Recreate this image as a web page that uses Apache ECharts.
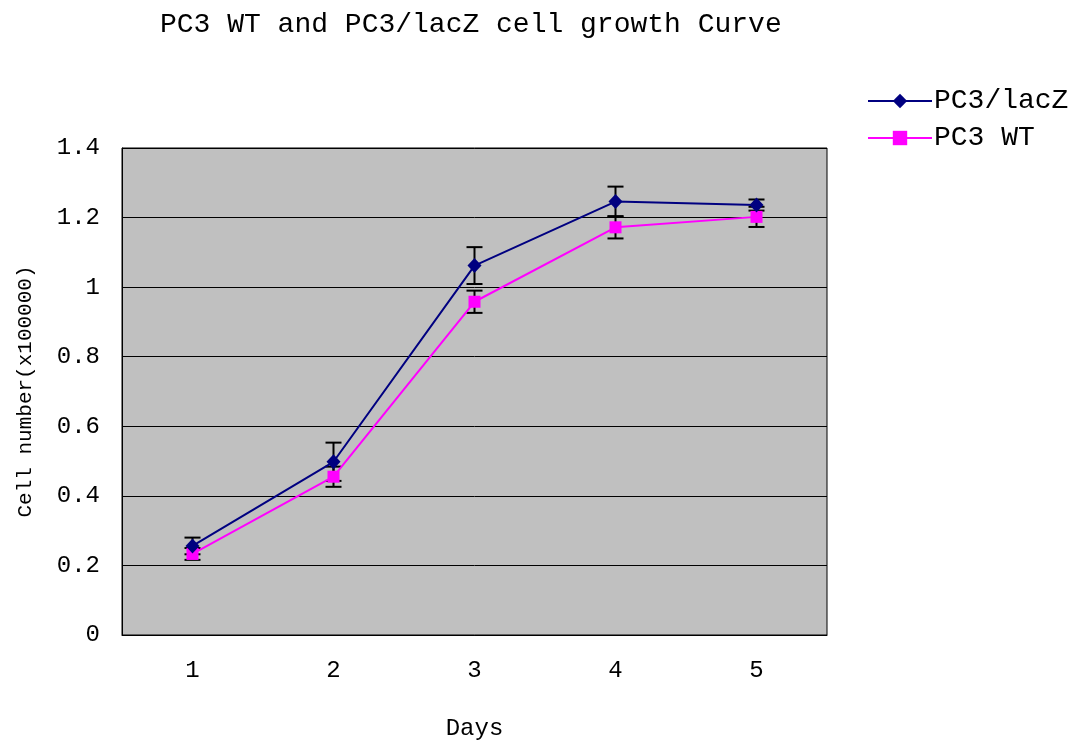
<!DOCTYPE html>
<html>
<head>
<meta charset="utf-8">
<style>
  html, body { margin: 0; padding: 0; background: #fff; }
  #chart { width: 1082px; height: 741px; }
</style>
<script src="https://cdn.jsdelivr.net/npm/echarts@6/dist/echarts.min.js"></script>
</head>
<body>
<div id="chart"></div>
<script>
// values (cell number x100000)
var days = ['1', '2', '3', '4', '5'];
var laczMean = [0.256, 0.498, 1.062, 1.246, 1.236];
var laczErr = [0.024, 0.055, 0.053, 0.043, 0.016];
var wtMean = [0.233, 0.455, 0.958, 1.172, 1.202];
var wtErr = [0.017, 0.029, 0.032, 0.032, 0.029];

var FONT = '"Liberation Mono", "DejaVu Sans Mono", monospace';

function errData(mean, err) {
  return mean.map(function (m, i) { return [i, m - err[i], m + err[i]]; });
}

function renderErr(params, api) {
  var lo = api.coord([api.value(0), api.value(1)]);
  var hi = api.coord([api.value(0), api.value(2)]);
  var w = 8;
  var style = { stroke: '#000', lineWidth: 2 };
  return {
    type: 'group',
    children: [
      { type: 'line', shape: { x1: lo[0], y1: lo[1], x2: hi[0], y2: hi[1] }, style: style },
      { type: 'line', shape: { x1: lo[0] - w, y1: lo[1], x2: lo[0] + w, y2: lo[1] }, style: style },
      { type: 'line', shape: { x1: hi[0] - w, y1: hi[1], x2: hi[0] + w, y2: hi[1] }, style: style }
    ]
  };
}

var chart = echarts.init(document.getElementById('chart'));
chart.setOption({
  animation: false,
  backgroundColor: '#fff',
  textStyle: { fontFamily: FONT, color: '#000' },
  title: {
    text: 'PC3 WT and PC3/lacZ cell growth Curve',
    left: 155,
    top: 6,
    textStyle: { fontFamily: FONT, fontSize: 28, fontWeight: 'normal', color: '#000' }
  },
  legend: {
    orient: 'vertical',
    left: 862,
    top: 82,
    itemWidth: 64,
    itemHeight: 18,
    itemGap: 9,
    textStyle: { fontFamily: FONT, fontSize: 28, color: '#000', padding: [0, 0, 0, -3] },
    data: ['PC3/lacZ', 'PC3 WT']
  },
  grid: {
    left: 122, top: 148, width: 705, height: 487,
    containLabel: false,
    outerBoundsMode: 'none',
    show: true, backgroundColor: '#c0c0c0', borderColor: '#000', borderWidth: 1
  },
  xAxis: {
    type: 'category',
    data: days,
    boundaryGap: true,
    name: 'Days',
    nameLocation: 'middle',
    nameGap: 82,
    nameTextStyle: { fontFamily: FONT, fontSize: 24, color: '#000' },
    axisLine: { lineStyle: { color: '#000', width: 1 } },
    axisTick: { inside: true, length: 8, lineStyle: { color: '#000' } },
    axisLabel: { fontFamily: FONT, fontSize: 24, color: '#000', margin: 24 },
    splitLine: { show: false }
  },
  yAxis: {
    type: 'value',
    min: 0, max: 1.4, interval: 0.2,
    name: 'Cell number(x100000)',
    nameLocation: 'middle',
    nameGap: 86,
    nameTextStyle: { fontFamily: FONT, fontSize: 21, color: '#000' },
    axisLine: { show: true, lineStyle: { color: '#000', width: 1 } },
    axisTick: { show: false },
    axisLabel: { fontFamily: FONT, fontSize: 24, color: '#000', margin: 22 },
    splitLine: { show: true, lineStyle: { color: '#000', width: 1 } }
  },
  series: [
    {
      type: 'custom', name: 'lacZ err', renderItem: renderErr,
      data: errData(laczMean, laczErr), z: 1, silent: true
    },
    {
      type: 'custom', name: 'wt err', renderItem: renderErr,
      data: errData(wtMean, wtErr), z: 1, silent: true
    },
    {
      name: 'PC3/lacZ', type: 'line', data: laczMean, z: 3,
      symbol: 'diamond', symbolSize: [14, 15],
      lineStyle: { color: '#000080', width: 2 },
      itemStyle: { color: '#000080' }
    },
    {
      name: 'PC3 WT', type: 'line', data: wtMean, z: 2,
      symbol: 'rect', symbolSize: 12,
      lineStyle: { color: '#ff00ff', width: 2 },
      itemStyle: { color: '#ff00ff' }
    }
  ]
});
</script>
</body>
</html>
